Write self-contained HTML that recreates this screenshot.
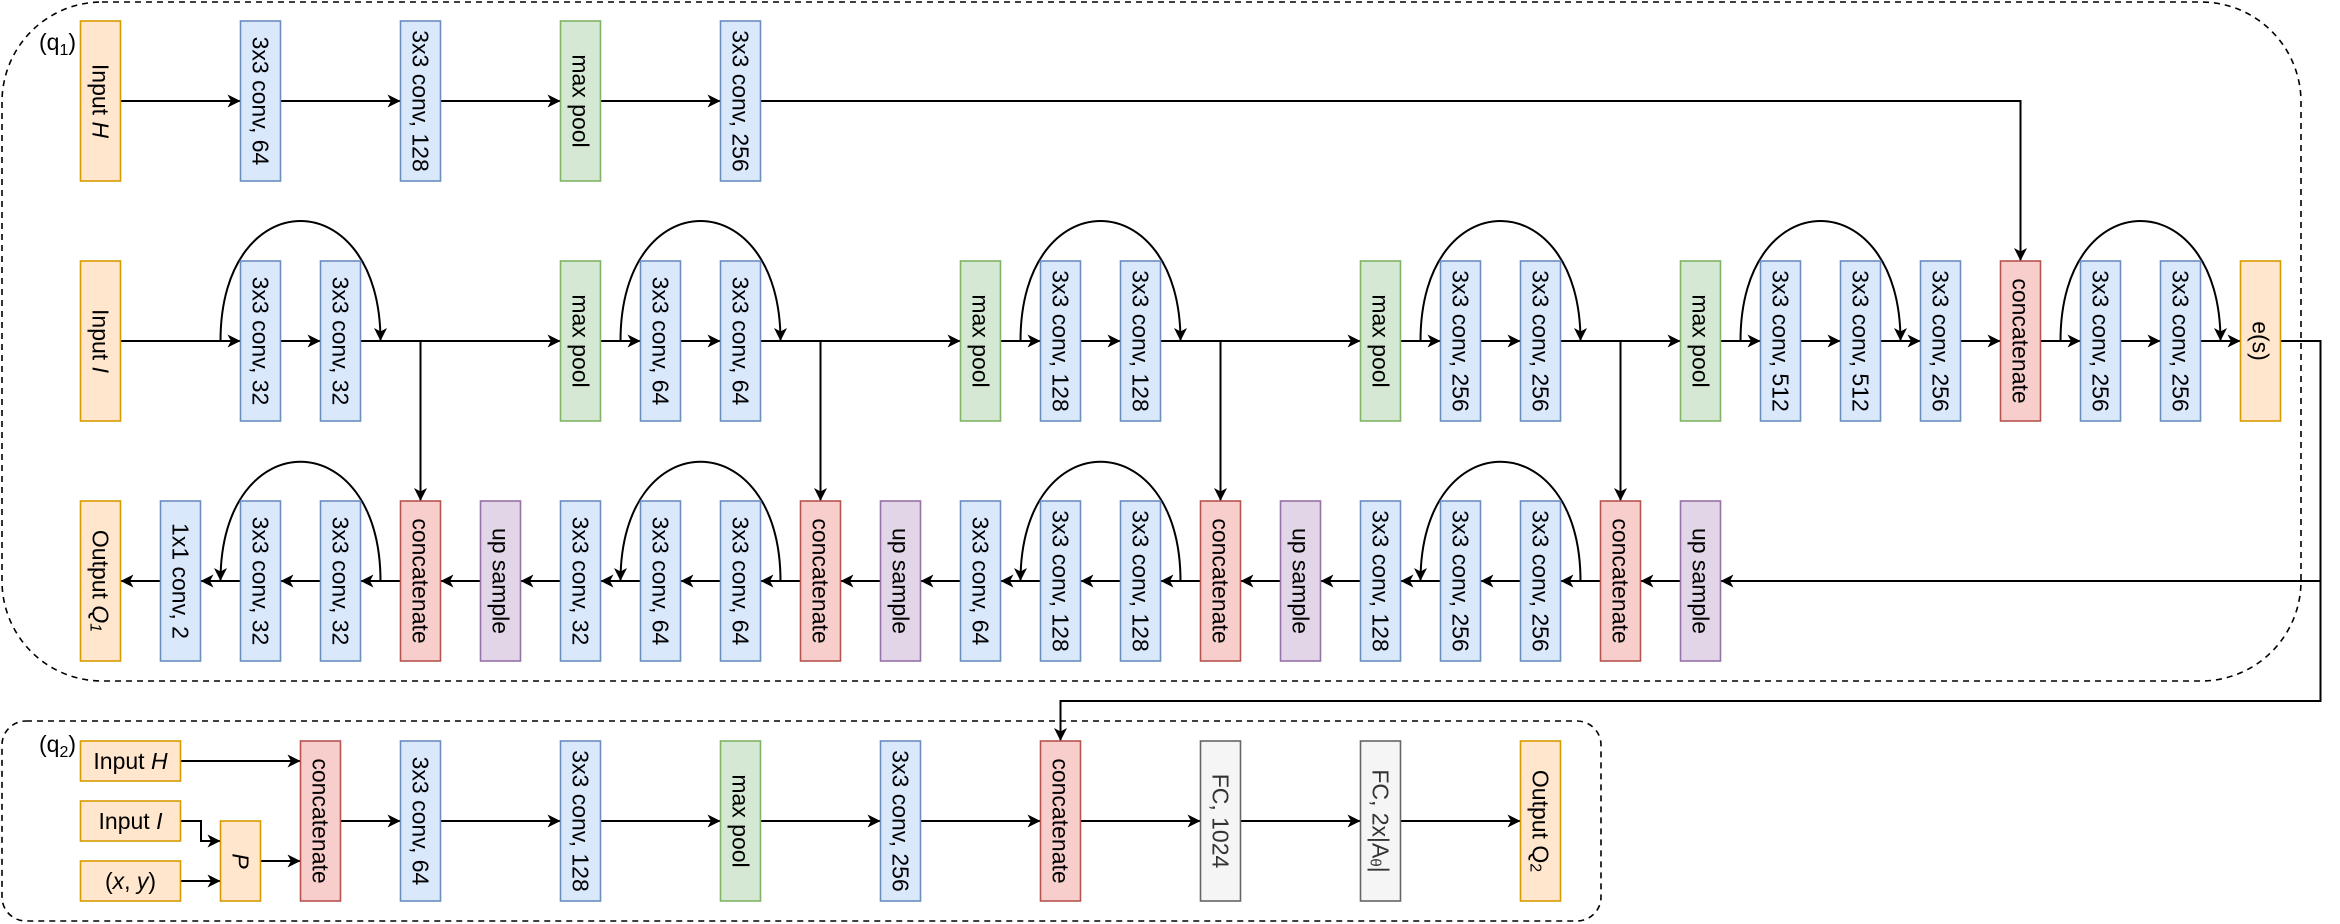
<!DOCTYPE html>
<html><head><meta charset="utf-8"><style>
html,body{margin:0;padding:0;background:#fff;}
svg{display:block;}
text{font-family:"Liberation Sans",Arial,sans-serif;font-size:23px;fill:#000;}
.b{fill:#dae8fc;stroke:#6c8ebf;stroke-width:1.6}
.o{fill:#ffe6cc;stroke:#d79b00;stroke-width:1.6}
.g{fill:#d5e8d4;stroke:#82b366;stroke-width:1.6}
.r{fill:#f8cecc;stroke:#b85450;stroke-width:1.6}
.p{fill:#e1d5e7;stroke:#9673a6;stroke-width:1.6}
.f{fill:#f5f5f5;stroke:#666;stroke-width:1.6}
.a{fill:none;stroke:#000;stroke-width:2;marker-end:url(#m)}
.l{fill:none;stroke:#000;stroke-width:2}
.d{fill:none;stroke:#000;stroke-width:1.6;stroke-dasharray:6 5}
</style></head><body>
<svg width="2340" height="924" viewBox="0 0 2340 924" xmlns="http://www.w3.org/2000/svg">
<defs><marker id="m" markerUnits="userSpaceOnUse" markerWidth="14" markerHeight="14" refX="13" refY="6.5" orient="auto"><path d="M0,0 L13,6.5 L0,13 L3.5,6.5 z" fill="#000"/></marker></defs>

<rect class="d" x="2" y="2" width="2299" height="679" rx="100" ry="100"/>
<rect class="d" x="2" y="721" width="1599" height="200" rx="24" ry="24"/>
<text x="39" y="50">(q<tspan font-size="16" dy="5">1</tspan><tspan dy="-5">)</tspan></text>
<text x="39" y="752">(q<tspan font-size="16" dy="5">2</tspan><tspan dy="-5">)</tspan></text>

<!-- connectors -->
<g>
<line class="a" x1="120.5" y1="101" x2="240.5" y2="101"/>
<line class="a" x1="280.5" y1="101" x2="400.5" y2="101"/>
<line class="a" x1="440.5" y1="101" x2="560.5" y2="101"/>
<line class="a" x1="600.5" y1="101" x2="720.5" y2="101"/>
<path class="a" d="M760.5,101 H2020.5 V261"/>

<line class="a" x1="120.5" y1="341" x2="240.5" y2="341"/>
<line class="a" x1="280.5" y1="341" x2="320.5" y2="341"/>
<line class="a" x1="360.5" y1="341" x2="560.5" y2="341"/>
<line class="a" x1="600.5" y1="341" x2="640.5" y2="341"/>
<line class="a" x1="680.5" y1="341" x2="720.5" y2="341"/>
<line class="a" x1="760.5" y1="341" x2="960.5" y2="341"/>
<line class="a" x1="1000.5" y1="341" x2="1040.5" y2="341"/>
<line class="a" x1="1080.5" y1="341" x2="1120.5" y2="341"/>
<line class="a" x1="1160.5" y1="341" x2="1360.5" y2="341"/>
<line class="a" x1="1400.5" y1="341" x2="1440.5" y2="341"/>
<line class="a" x1="1480.5" y1="341" x2="1520.5" y2="341"/>
<line class="a" x1="1560.5" y1="341" x2="1680.5" y2="341"/>
<line class="a" x1="1720.5" y1="341" x2="1760.5" y2="341"/>
<line class="a" x1="1800.5" y1="341" x2="1840.5" y2="341"/>
<line class="a" x1="1880.5" y1="341" x2="1920.5" y2="341"/>
<line class="a" x1="1960.5" y1="341" x2="2000.5" y2="341"/>
<line class="a" x1="2040.5" y1="341" x2="2080.5" y2="341"/>
<line class="a" x1="2120.5" y1="341" x2="2160.5" y2="341"/>
<line class="a" x1="2200.5" y1="341" x2="2240.5" y2="341"/>

<path class="a" d="M220.5,341 C220.5,181 380.5,181 380.5,341"/>
<path class="a" d="M620.5,341 C620.5,181 780.5,181 780.5,341"/>
<path class="a" d="M1020.5,341 C1020.5,181 1180.5,181 1180.5,341"/>
<path class="a" d="M1420.5,341 C1420.5,181 1580.5,181 1580.5,341"/>
<path class="a" d="M1740.5,341 C1740.5,181 1900.5,181 1900.5,341"/>
<path class="a" d="M2060.5,341 C2060.5,181 2220.5,181 2220.5,341"/>

<line class="a" x1="420.5" y1="341" x2="420.5" y2="501"/>
<line class="a" x1="820.5" y1="341" x2="820.5" y2="501"/>
<line class="a" x1="1220.5" y1="341" x2="1220.5" y2="501"/>
<line class="a" x1="1620.5" y1="341" x2="1620.5" y2="501"/>

<path class="a" d="M2280.5,341 H2320.5 V701 H1060.5 V741"/>
<line class="a" x1="2320.5" y1="581" x2="1720.5" y2="581"/>

<line class="a" x1="160.5" y1="581" x2="120.5" y2="581"/>
<line class="a" x1="240.5" y1="581" x2="200.5" y2="581"/>
<line class="a" x1="320.5" y1="581" x2="280.5" y2="581"/>
<line class="a" x1="400.5" y1="581" x2="360.5" y2="581"/>
<line class="a" x1="480.5" y1="581" x2="440.5" y2="581"/>
<line class="a" x1="560.5" y1="581" x2="520.5" y2="581"/>
<line class="a" x1="640.5" y1="581" x2="600.5" y2="581"/>
<line class="a" x1="720.5" y1="581" x2="680.5" y2="581"/>
<line class="a" x1="800.5" y1="581" x2="760.5" y2="581"/>
<line class="a" x1="880.5" y1="581" x2="840.5" y2="581"/>
<line class="a" x1="960.5" y1="581" x2="920.5" y2="581"/>
<line class="a" x1="1040.5" y1="581" x2="1000.5" y2="581"/>
<line class="a" x1="1120.5" y1="581" x2="1080.5" y2="581"/>
<line class="a" x1="1200.5" y1="581" x2="1160.5" y2="581"/>
<line class="a" x1="1280.5" y1="581" x2="1240.5" y2="581"/>
<line class="a" x1="1360.5" y1="581" x2="1320.5" y2="581"/>
<line class="a" x1="1440.5" y1="581" x2="1400.5" y2="581"/>
<line class="a" x1="1520.5" y1="581" x2="1480.5" y2="581"/>
<line class="a" x1="1600.5" y1="581" x2="1560.5" y2="581"/>
<line class="a" x1="1680.5" y1="581" x2="1640.5" y2="581"/>

<path class="a" d="M380.5,581 C380.5,422 220.5,422 220.5,581"/>
<path class="a" d="M780.5,581 C780.5,422 620.5,422 620.5,581"/>
<path class="a" d="M1180.5,581 C1180.5,422 1020.5,422 1020.5,581"/>
<path class="a" d="M1580.5,581 C1580.5,422 1420.5,422 1420.5,581"/>

<!-- q2 -->
<line class="a" x1="180.5" y1="761" x2="300.5" y2="761"/>
<path class="a" d="M180.5,821 H201 V841 H220.5"/>
<line class="a" x1="180.5" y1="881" x2="220.5" y2="881"/>
<line class="a" x1="260.5" y1="861" x2="300.5" y2="861"/>
<line class="a" x1="340.5" y1="821" x2="400.5" y2="821"/>
<line class="a" x1="440.5" y1="821" x2="560.5" y2="821"/>
<line class="a" x1="600.5" y1="821" x2="720.5" y2="821"/>
<line class="a" x1="760.5" y1="821" x2="880.5" y2="821"/>
<line class="a" x1="920.5" y1="821" x2="1040.5" y2="821"/>
<line class="a" x1="1080.5" y1="821" x2="1200.5" y2="821"/>
<line class="a" x1="1240.5" y1="821" x2="1360.5" y2="821"/>
<line class="a" x1="1400.5" y1="821" x2="1520.5" y2="821"/>
</g>

<!-- row 1 -->
<rect class="o" x="80.5" y="21" width="40" height="160"/>
<text transform="translate(100.5,101) rotate(90)" text-anchor="middle" dominant-baseline="central">Input <tspan font-style="italic">H</tspan></text>
<rect class="b" x="240.5" y="21" width="40" height="160"/>
<text transform="translate(260.5,101) rotate(90)" text-anchor="middle" dominant-baseline="central">3x3 conv, 64</text>
<rect class="b" x="400.5" y="21" width="40" height="160"/>
<text transform="translate(420.5,101) rotate(90)" text-anchor="middle" dominant-baseline="central">3x3 conv, 128</text>
<rect class="g" x="560.5" y="21" width="40" height="160"/>
<text transform="translate(580.5,101) rotate(90)" text-anchor="middle" dominant-baseline="central">max pool</text>
<rect class="b" x="720.5" y="21" width="40" height="160"/>
<text transform="translate(740.5,101) rotate(90)" text-anchor="middle" dominant-baseline="central">3x3 conv, 256</text>

<!-- row 2 -->
<rect class="o" x="80.5" y="261" width="40" height="160"/>
<text transform="translate(100.5,341) rotate(90)" text-anchor="middle" dominant-baseline="central">Input <tspan font-style="italic">I</tspan></text>
<rect class="b" x="240.5" y="261" width="40" height="160"/>
<text transform="translate(260.5,341) rotate(90)" text-anchor="middle" dominant-baseline="central">3x3 conv, 32</text>
<rect class="b" x="320.5" y="261" width="40" height="160"/>
<text transform="translate(340.5,341) rotate(90)" text-anchor="middle" dominant-baseline="central">3x3 conv, 32</text>
<rect class="g" x="560.5" y="261" width="40" height="160"/>
<text transform="translate(580.5,341) rotate(90)" text-anchor="middle" dominant-baseline="central">max pool</text>
<rect class="b" x="640.5" y="261" width="40" height="160"/>
<text transform="translate(660.5,341) rotate(90)" text-anchor="middle" dominant-baseline="central">3x3 conv, 64</text>
<rect class="b" x="720.5" y="261" width="40" height="160"/>
<text transform="translate(740.5,341) rotate(90)" text-anchor="middle" dominant-baseline="central">3x3 conv, 64</text>
<rect class="g" x="960.5" y="261" width="40" height="160"/>
<text transform="translate(980.5,341) rotate(90)" text-anchor="middle" dominant-baseline="central">max pool</text>
<rect class="b" x="1040.5" y="261" width="40" height="160"/>
<text transform="translate(1060.5,341) rotate(90)" text-anchor="middle" dominant-baseline="central">3x3 conv, 128</text>
<rect class="b" x="1120.5" y="261" width="40" height="160"/>
<text transform="translate(1140.5,341) rotate(90)" text-anchor="middle" dominant-baseline="central">3x3 conv, 128</text>
<rect class="g" x="1360.5" y="261" width="40" height="160"/>
<text transform="translate(1380.5,341) rotate(90)" text-anchor="middle" dominant-baseline="central">max pool</text>
<rect class="b" x="1440.5" y="261" width="40" height="160"/>
<text transform="translate(1460.5,341) rotate(90)" text-anchor="middle" dominant-baseline="central">3x3 conv, 256</text>
<rect class="b" x="1520.5" y="261" width="40" height="160"/>
<text transform="translate(1540.5,341) rotate(90)" text-anchor="middle" dominant-baseline="central">3x3 conv, 256</text>
<rect class="g" x="1680.5" y="261" width="40" height="160"/>
<text transform="translate(1700.5,341) rotate(90)" text-anchor="middle" dominant-baseline="central">max pool</text>
<rect class="b" x="1760.5" y="261" width="40" height="160"/>
<text transform="translate(1780.5,341) rotate(90)" text-anchor="middle" dominant-baseline="central">3x3 conv, 512</text>
<rect class="b" x="1840.5" y="261" width="40" height="160"/>
<text transform="translate(1860.5,341) rotate(90)" text-anchor="middle" dominant-baseline="central">3x3 conv, 512</text>
<rect class="b" x="1920.5" y="261" width="40" height="160"/>
<text transform="translate(1940.5,341) rotate(90)" text-anchor="middle" dominant-baseline="central">3x3 conv, 256</text>
<rect class="r" x="2000.5" y="261" width="40" height="160"/>
<text transform="translate(2020.5,341) rotate(90)" text-anchor="middle" dominant-baseline="central">concatenate</text>
<rect class="b" x="2080.5" y="261" width="40" height="160"/>
<text transform="translate(2100.5,341) rotate(90)" text-anchor="middle" dominant-baseline="central">3x3 conv, 256</text>
<rect class="b" x="2160.5" y="261" width="40" height="160"/>
<text transform="translate(2180.5,341) rotate(90)" text-anchor="middle" dominant-baseline="central">3x3 conv, 256</text>
<rect class="o" x="2240.5" y="261" width="40" height="160"/>
<text transform="translate(2260.5,341) rotate(90)" text-anchor="middle" dominant-baseline="central">e(s)</text>

<!-- row 3 -->
<rect class="o" x="80.5" y="501" width="40" height="160"/>
<text transform="translate(100.5,581) rotate(90)" text-anchor="middle" dominant-baseline="central">Output <tspan font-style="italic">Q<tspan font-size="16" dy="5">1</tspan></tspan></text>
<rect class="b" x="160.5" y="501" width="40" height="160"/>
<text transform="translate(180.5,581) rotate(90)" text-anchor="middle" dominant-baseline="central">1x1 conv, 2</text>
<rect class="b" x="240.5" y="501" width="40" height="160"/>
<text transform="translate(260.5,581) rotate(90)" text-anchor="middle" dominant-baseline="central">3x3 conv, 32</text>
<rect class="b" x="320.5" y="501" width="40" height="160"/>
<text transform="translate(340.5,581) rotate(90)" text-anchor="middle" dominant-baseline="central">3x3 conv, 32</text>
<rect class="r" x="400.5" y="501" width="40" height="160"/>
<text transform="translate(420.5,581) rotate(90)" text-anchor="middle" dominant-baseline="central">concatenate</text>
<rect class="p" x="480.5" y="501" width="40" height="160"/>
<text transform="translate(500.5,581) rotate(90)" text-anchor="middle" dominant-baseline="central">up sample</text>
<rect class="b" x="560.5" y="501" width="40" height="160"/>
<text transform="translate(580.5,581) rotate(90)" text-anchor="middle" dominant-baseline="central">3x3 conv, 32</text>
<rect class="b" x="640.5" y="501" width="40" height="160"/>
<text transform="translate(660.5,581) rotate(90)" text-anchor="middle" dominant-baseline="central">3x3 conv, 64</text>
<rect class="b" x="720.5" y="501" width="40" height="160"/>
<text transform="translate(740.5,581) rotate(90)" text-anchor="middle" dominant-baseline="central">3x3 conv, 64</text>
<rect class="r" x="800.5" y="501" width="40" height="160"/>
<text transform="translate(820.5,581) rotate(90)" text-anchor="middle" dominant-baseline="central">concatenate</text>
<rect class="p" x="880.5" y="501" width="40" height="160"/>
<text transform="translate(900.5,581) rotate(90)" text-anchor="middle" dominant-baseline="central">up sample</text>
<rect class="b" x="960.5" y="501" width="40" height="160"/>
<text transform="translate(980.5,581) rotate(90)" text-anchor="middle" dominant-baseline="central">3x3 conv, 64</text>
<rect class="b" x="1040.5" y="501" width="40" height="160"/>
<text transform="translate(1060.5,581) rotate(90)" text-anchor="middle" dominant-baseline="central">3x3 conv, 128</text>
<rect class="b" x="1120.5" y="501" width="40" height="160"/>
<text transform="translate(1140.5,581) rotate(90)" text-anchor="middle" dominant-baseline="central">3x3 conv, 128</text>
<rect class="r" x="1200.5" y="501" width="40" height="160"/>
<text transform="translate(1220.5,581) rotate(90)" text-anchor="middle" dominant-baseline="central">concatenate</text>
<rect class="p" x="1280.5" y="501" width="40" height="160"/>
<text transform="translate(1300.5,581) rotate(90)" text-anchor="middle" dominant-baseline="central">up sample</text>
<rect class="b" x="1360.5" y="501" width="40" height="160"/>
<text transform="translate(1380.5,581) rotate(90)" text-anchor="middle" dominant-baseline="central">3x3 conv, 128</text>
<rect class="b" x="1440.5" y="501" width="40" height="160"/>
<text transform="translate(1460.5,581) rotate(90)" text-anchor="middle" dominant-baseline="central">3x3 conv, 256</text>
<rect class="b" x="1520.5" y="501" width="40" height="160"/>
<text transform="translate(1540.5,581) rotate(90)" text-anchor="middle" dominant-baseline="central">3x3 conv, 256</text>
<rect class="r" x="1600.5" y="501" width="40" height="160"/>
<text transform="translate(1620.5,581) rotate(90)" text-anchor="middle" dominant-baseline="central">concatenate</text>
<rect class="p" x="1680.5" y="501" width="40" height="160"/>
<text transform="translate(1700.5,581) rotate(90)" text-anchor="middle" dominant-baseline="central">up sample</text>

<!-- q2 boxes -->
<rect class="o" x="80.5" y="741" width="100" height="40"/>
<text x="130.5" y="761" text-anchor="middle" dominant-baseline="central">Input <tspan font-style="italic">H</tspan></text>
<rect class="o" x="80.5" y="801" width="100" height="40"/>
<text x="130.5" y="821" text-anchor="middle" dominant-baseline="central">Input <tspan font-style="italic">I</tspan></text>
<rect class="o" x="80.5" y="861" width="100" height="40"/>
<text x="130.5" y="881" text-anchor="middle" dominant-baseline="central">(<tspan font-style="italic">x</tspan>, <tspan font-style="italic">y</tspan>)</text>
<rect class="o" x="220.5" y="821" width="40" height="80"/>
<text transform="translate(240.5,861) rotate(90)" text-anchor="middle" dominant-baseline="central" font-style="italic">P</text>
<rect class="r" x="300.5" y="741" width="40" height="160"/>
<text transform="translate(320.5,821) rotate(90)" text-anchor="middle" dominant-baseline="central">concatenate</text>
<rect class="b" x="400.5" y="741" width="40" height="160"/>
<text transform="translate(420.5,821) rotate(90)" text-anchor="middle" dominant-baseline="central">3x3 conv, 64</text>
<rect class="b" x="560.5" y="741" width="40" height="160"/>
<text transform="translate(580.5,821) rotate(90)" text-anchor="middle" dominant-baseline="central">3x3 conv, 128</text>
<rect class="g" x="720.5" y="741" width="40" height="160"/>
<text transform="translate(740.5,821) rotate(90)" text-anchor="middle" dominant-baseline="central">max pool</text>
<rect class="b" x="880.5" y="741" width="40" height="160"/>
<text transform="translate(900.5,821) rotate(90)" text-anchor="middle" dominant-baseline="central">3x3 conv, 256</text>
<rect class="r" x="1040.5" y="741" width="40" height="160"/>
<text transform="translate(1060.5,821) rotate(90)" text-anchor="middle" dominant-baseline="central">concatenate</text>
<rect class="f" x="1200.5" y="741" width="40" height="160"/>
<text transform="translate(1220.5,821) rotate(90)" text-anchor="middle" dominant-baseline="central" style="fill:#333">FC, 1024</text>
<rect class="f" x="1360.5" y="741" width="40" height="160"/>
<text transform="translate(1380.5,821) rotate(90)" text-anchor="middle" dominant-baseline="central" style="fill:#333">FC, 2x|A<tspan font-size="15" dy="5">θ</tspan><tspan dy="-5">|</tspan></text>
<rect class="o" x="1520.5" y="741" width="40" height="160"/>
<text transform="translate(1540.5,821) rotate(90)" text-anchor="middle" dominant-baseline="central">Output Q<tspan font-size="16" dy="5">2</tspan></text>
</svg>
</body></html>
